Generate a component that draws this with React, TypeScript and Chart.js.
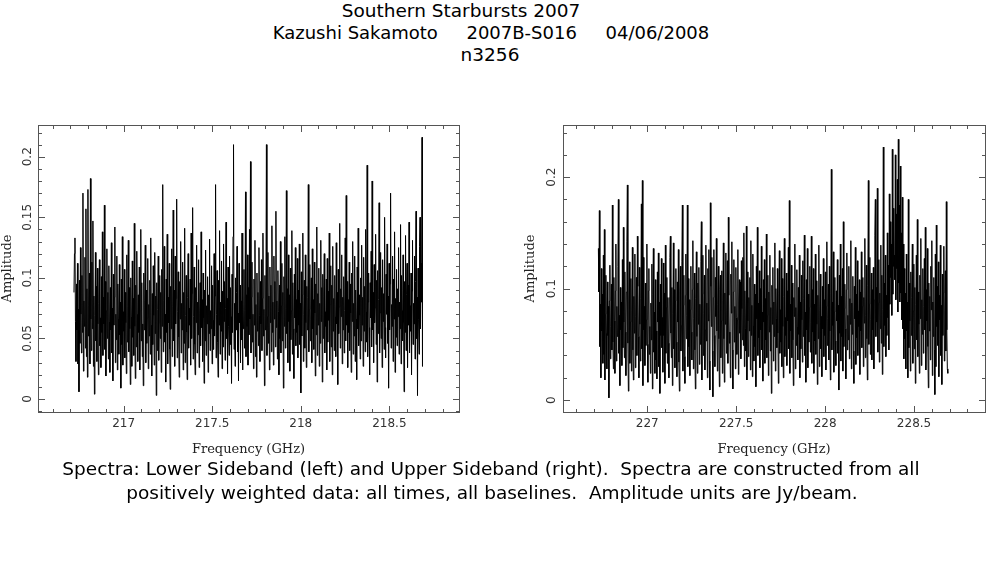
import React, { useEffect, useRef } from 'react';
import { Chart, registerables } from 'chart.js';

Chart.register(...registerables);

// ---- Data (amplitudes in mJy/beam, i.e. units of 0.001 Jy/beam) ----
const lsbFreqStartGHz = 216.72;
const lsbFreqEndGHz = 218.687;
const usbFreqStartGHz = 226.725;
const usbFreqEndGHz = 228.69;

const lsbAmplitudeMilli = [
  88, 120, 133, 64, 31, 95, 57, 112, 29, 74, 6, 98, 46, 125, 70, 38, 102, 55, 170, 23, 81, 60, 117, 42, 157,
  35, 91, 18, 173, 52, 77, 104, 29, 182, 66, 40, 113, 58, 147, 27, 85, 4, 69, 121, 48, 93, 31, 108, 62, 20,
  79, 115, 44, 67, 26, 101, 55, 138, 36, 84, 62, 160, 41, 97, 19, 73, 124, 50, 88, 33, 110, 64, 22, 92, 57,
  129, 38, 75, 15, 103, 61, 84, 142, 30, 70, 49, 118, 24, 95, 66, 37, 111, 53, 80, 9, 99, 45, 134, 28, 72,
  56, 107, 34, 88, 63, 21, 119, 47, 76, 131, 39, 92, 58, 12, 100, 68, 27, 114, 51, 83, 36, 145, 60, 17, 94,
  43, 122, 70, 31, 86, 55, 109, 24, 73, 140, 48, 96, 35, 62, 11, 104, 57, 81, 127, 30, 90, 46, 67, 116, 25,
  78, 52, 98, 37, 133, 61, 19, 87, 45, 110, 69, 28, 121, 54, 85, 3, 96, 40, 74, 118, 32, 63, 102, 50, 88,
  22, 107, 60, 177, 39, 81, 126, 47, 70, 14, 99, 55, 136, 29, 84, 63, 112, 41, 8, 93, 58, 124, 35, 76, 156,
  48, 90, 27, 118, 62, 83, 165, 34, 72, 105, 51, 18, 97, 66, 130, 38, 79, 57, 113, 24, 88, 46, 141, 30, 69,
  102, 55, 16, 84, 120, 42, 75, 61, 99, 28, 137, 50, 87, 158, 33, 68, 109, 45, 20, 92, 63, 127, 38, 80, 53,
  115, 26, 71, 96, 44, 138, 59, 82, 31, 104, 67, 13, 90, 48, 123, 36, 77, 62, 101, 22, 86, 54, 132, 40, 73,
  58, 110, 29, 94, 65, 41, 120, 52, 85, 177, 34, 70, 106, 47, 18, 98, 61, 139, 37, 80, 56, 114, 25, 89, 43,
  128, 64, 97, 32, 75, 146, 50, 83, 21, 109, 60, 36, 118, 45, 92, 68, 13, 103, 55, 134, 210, 41, 79, 27, 100,
  57, 88, 126, 39, 71, 15, 112, 63, 94, 30, 81, 49, 137, 24, 96, 58, 107, 42, 73, 171, 35, 86, 60, 119, 28,
  92, 53, 140, 66, 196, 38, 84, 113, 47, 70, 25, 99, 61, 131, 35, 78, 18, 104, 56, 88, 44, 125, 69, 31, 97,
  62, 115, 40, 83, 137, 52, 74, 11, 102, 57, 90, 210, 36, 68, 121, 46, 85, 24, 109, 63, 94, 39, 143, 55, 80,
  28, 118, 66, 97, 43, 155, 59, 81, 33, 106, 72, 20, 94, 50, 130, 38, 77, 112, 48, 88, 9, 101, 60, 134, 42,
  75, 172, 54, 91, 30, 119, 64, 86, 23, 108, 49, 73, 139, 37, 96, 58, 17, 103, 67, 125, 44, 82, 55, 116, 34,
  90, 61, 128, 45, 79, 5, 105, 52, 86, 137, 31, 70, 98, 42, 119, 63, 26, 93, 57, 84, 177, 39, 74, 111, 48,
  66, 100, 30, 124, 58, 82, 41, 113, 71, 19, 95, 53, 142, 36, 87, 61, 108, 27, 79, 46, 131, 64, 92, 14, 103,
  50, 85, 120, 38, 72, 60, 99, 24, 116, 47, 89, 65, 137, 31, 78, 110, 43, 94, 20, 126, 56, 83, 40, 102, 68,
  35, 129, 62, 88, 12, 107, 54, 76, 145, 42, 91, 68, 119, 29, 84, 57, 101, 38, 73, 133, 48, 168, 61, 97, 26,
  82, 55, 113, 40, 95, 71, 22, 104, 64, 130, 37, 79, 52, 118, 31, 90, 66, 16, 109, 58, 141, 44, 86, 69, 33,
  100, 48, 127, 61, 84, 27, 117, 56, 93, 39, 140, 72, 47, 193, 35, 80, 104, 59, 20, 96, 67, 122, 43, 180, 57,
  88, 30, 111, 63, 75, 136, 45, 98, 14, 106, 54, 82, 162, 38, 71, 121, 50, 92, 26, 115, 64, 87, 41, 150, 59,
  34, 103, 70, 128, 46, 85, 9, 112, 57, 95, 170, 42, 78, 60, 118, 31, 99, 66, 138, 22, 83, 51, 107, 44, 91,
  68, 125, 37, 80, 58, 144, 29, 102, 73, 48, 119, 63, 6, 97, 55, 135, 40, 86, 112, 26, 94, 61, 146, 38, 77,
  56, 104, 20, 89, 131, 45, 79, 62, 118, 33, 97, 155, 50, 84, 3, 108, 66, 37, 126, 150, 58, 112, 80, 216, 27,
];

const usbAmplitudeMilli = [
  136, 97, 170, 48, 86, 20, 118, 62, 95, 33, 130, 41, 153, 18, 77, 112, 60, 28, 106, 58, 84, 2, 89, 121, 37,
  66, 104, 45, 175, 52, 28, 110, 71, 24, 98, 140, 35, 84, 57, 120, 180, 42, 76, 13, 101, 63, 88, 31, 126, 47,
  155, 70, 38, 115, 61, 22, 97, 142, 193, 51, 8, 88, 124, 33, 70, 109, 26, 80, 137, 45, 18, 93, 60, 131, 29,
  75, 110, 40, 147, 102, 57, 20, 119, 68, 35, 91, 176, 46, 197, 13, 128, 63, 84, 31, 105, 49, 72, 140, 50, 16,
  98, 118, 41, 66, 24, 87, 54, 122, 10, 95, 136, 43, 79, 24, 108, 36, 62, 19, 115, 70, 132, 30, 88, 6, 104,
  58, 127, 47, 74, 25, 123, 58, 96, 15, 139, 42, 83, 110, 33, 92, 51, 20, 92, 128, 147, 60, 38, 101, 13, 78,
  141, 46, 99, 29, 89, 118, 52, 21, 106, 70, 135, 34, 8, 97, 120, 44, 67, 124, 175, 26, 85, 112, 39, 15, 94,
  131, 55, 76, 175, 30, 109, 48, 90, 22, 81, 120, 61, 36, 99, 143, 28, 73, 114, 45, 10, 91, 133, 57, 24, 105,
  68, 119, 32, 86, 50, 124, 160, 18, 95, 130, 40, 78, 112, 27, 63, 139, 53, 87, 20, 118, 71, 135, 35, 9, 177,
  102, 66, 128, 44, 3, 92, 135, 58, 30, 110, 75, 145, 62, 26, 86, 120, 55, 12, 99, 112, 38, 71, 116, 24, 89,
  141, 55, 16, 96, 68, 132, 42, 80, 125, 33, 164, 94, 51, 61, 20, 113, 78, 142, 45, 10, 97, 126, 52, 84, 28,
  119, 74, 41, 72, 135, 23, 88, 108, 60, 106, 37, 125, 82, 54, 128, 49, 150, 30, 98, 64, 44, 156, 18, 115, 71,
  39, 92, 62, 110, 27, 143, 58, 85, 21, 131, 67, 35, 104, 48, 95, 12, 120, 73, 155, 40, 87, 56, 116, 29, 100,
  63, 138, 45, 79, 17, 108, 70, 126, 33, 91, 54, 149, 38, 76, 112, 22, 97, 61, 130, 44, 83, 6, 103, 68, 119,
  35, 88, 57, 141, 26, 100, 73, 47, 118, 60, 15, 96, 134, 42, 81, 52, 127, 30, 109, 66, 20, 93, 145, 39, 74,
  58, 114, 31, 98, 71, 137, 46, 179, 24, 86, 62, 121, 38, 105, 54, 13, 92, 75, 140, 28, 83, 49, 117, 66, 36,
  101, 59, 130, 20, 88, 46, 112, 72, 34, 125, 57, 91, 148, 40, 79, 16, 108, 63, 136, 29, 95, 52, 83, 120, 43,
  70, 147, 33, 99, 61, 118, 24, 86, 53, 131, 41, 107, 68, 14, 94, 55, 139, 30, 80, 113, 46, 75, 21, 102, 64,
  127, 39, 90, 58, 115, 27, 84, 142, 49, 73, 104, 36, 120, 62, 18, 96, 207, 45, 88, 67, 133, 25, 79, 110, 53,
  31, 98, 71, 126, 42, 85, 9, 112, 60, 140, 35, 93, 57, 118, 26, 160, 48, 82, 104, 64, 19, 99, 132, 45, 76,
  54, 120, 37, 91, 68, 143, 28, 87, 59, 111, 44, 15, 102, 73, 137, 32, 95, 56, 125, 40, 80, 66, 108, 23, 97,
  62, 133, 47, 84, 110, 30, 92, 69, 145, 38, 76, 121, 55, 18, 103, 197, 50, 86, 128, 41, 72, 114, 36, 99, 63,
  119, 28, 90, 148, 180, 57, 101, 70, 190, 43, 87, 126, 34, 96, 64, 139, 51, 112, 23, 81, 227, 48, 105, 67, 130,
  39, 94, 58, 150, 74, 121, 45, 185, 86, 160, 110, 140, 76, 225, 95, 172, 120, 130, 108, 220, 90, 167, 118, 198, 79,
  234, 105, 175, 88, 210, 96, 150, 72, 182, 64, 140, 37, 118, 55, 96, 28, 131, 62, 88, 20, 180, 47, 105, 71, 26,
  115, 58, 92, 140, 33, 80, 122, 46, 101, 15, 86, 130, 54, 162, 39, 97, 68, 24, 112, 73, 145, 31, 90, 59, 118,
  42, 84, 127, 63, 155, 27, 99, 71, 136, 48, 11, 105, 62, 93, 36, 120, 81, 143, 22, 88, 57, 110, 45, 5, 131,
  30, 157, 66, 102, 49, 124, 21, 94, 72, 139, 40, 85, 14, 113, 58, 96, 138, 35, 80, 116, 44, 178, 63, 28, 24,
];

// Axis windows (GHz and mJy/beam)
const lsbXRange = [216.517, 218.893];
const usbXRange = [226.526, 228.899];
const lsbYRange = [-10.7, 226.2];
const usbYRange = [-10.7, 246.8];

const titleLines = ['Southern Starbursts 2007', 'Kazushi Sakamoto     2007B-S016     04/06/2008', 'n3256'];
const captionLines = [
  'Spectra: Lower Sideband (left) and Upper Sideband (right).  Spectra are constructed from all',
  'positively weighted data: all times, all baselines.  Amplitude units are Jy/beam.',
];

const isMultiple = (v: number, step: number) => Math.abs(v / step - Math.round(v / step)) < 1e-6;

const frameTicksPlugin = {
  id: 'frameTicks',
  afterDraw(chart: any, _args: any, opts: any) {
    const { ctx, chartArea: a } = chart;
    const xs = chart.scales.x;
    const ys = chart.scales.y;
    ctx.save();
    ctx.strokeStyle = '#555';
    ctx.lineWidth = 1;
    ctx.strokeRect(a.left + 0.5, a.top + 0.5, a.right - a.left, a.bottom - a.top);
    ctx.beginPath();
    for (const t of xs.ticks) {
      const p = Math.round(xs.getPixelForValue(t.value)) + 0.5;
      if (p <= a.left + 1 || p >= a.right) continue;
      const len = isMultiple(t.value, opts.xMajor) ? 6 : 3;
      ctx.moveTo(p, a.bottom);
      ctx.lineTo(p, a.bottom - len);
      ctx.moveTo(p, a.top + 1);
      ctx.lineTo(p, a.top + 1 + len);
    }
    for (const t of ys.ticks) {
      const p = Math.round(ys.getPixelForValue(t.value)) + 0.5;
      if (p <= a.top + 1 || p >= a.bottom) continue;
      const len = isMultiple(t.value, opts.yMajor) ? 6 : 3;
      ctx.moveTo(a.left + 1, p);
      ctx.lineTo(a.left + 1 + len, p);
      ctx.moveTo(a.right, p);
      ctx.lineTo(a.right - len, p);
    }
    ctx.stroke();
    ctx.fillStyle = '#333';
    ctx.font = '12px "DejaVu Sans"';
    ctx.textAlign = 'center';
    ctx.textBaseline = 'alphabetic';
    for (const t of ys.ticks) {
      if (!isMultiple(t.value, opts.yMajor)) continue;
      const p = ys.getPixelForValue(t.value);
      ctx.save();
      ctx.translate(a.left - opts.yLabelGap, p);
      ctx.rotate(-Math.PI / 2);
      ctx.fillText(String(Math.round(t.value) / 1000), 0, 0);
      ctx.restore();
    }
    ctx.restore();
  },
};

type PanelProps = {
  left: number;
  width: number;
  freqStart: number;
  freqEnd: number;
  amps: number[];
  xRange: number[];
  yRange: number[];
  yMinor: number;
  yMajor: number;
  yAxisWidth: number;
  padRight: number;
  yTitlePad: number;
  yLabelGap: number;
};

function SpectrumPanel(p: PanelProps) {
  const ref = useRef<HTMLCanvasElement | null>(null);
  useEffect(() => {
    if (!ref.current) return;
    const n = p.amps.length;
    const df = (p.freqEnd - p.freqStart) / (n - 1);
    const points = p.amps.map((v, i) => ({ x: p.freqStart + i * df, y: v }));
    const chart = new Chart(ref.current, {
      type: 'line',
      data: {
        datasets: [
          {
            data: points,
            borderColor: '#000',
            borderWidth: 1,
            pointRadius: 0,
            tension: 0,
            fill: false,
          },
        ],
      },
      options: {
        animation: false,
        responsive: false,
        devicePixelRatio: 1,
        events: [],
        layout: { padding: { left: 0, right: p.padRight, top: 10, bottom: 0 } },
        plugins: {
          legend: { display: false },
          tooltip: { enabled: false },
          title: { display: false },
          frameTicks: { xMajor: 0.5, yMajor: p.yMajor, yLabelGap: p.yLabelGap },
        } as any,
        scales: {
          x: {
            type: 'linear',
            min: p.xRange[0],
            max: p.xRange[1],
            afterFit: (s: any) => {
              s.height = 53;
            },
            grid: { display: false, drawTicks: false },
            border: { display: false },
            ticks: {
              stepSize: 0.1,
              autoSkip: false,
              includeBounds: false,
              maxRotation: 0,
              minRotation: 0,
              padding: 5,
              color: '#333',
              font: { family: 'DejaVu Sans', size: 12 },
              callback: (v: any) => (isMultiple(Number(v), 0.5) ? String(Math.round(Number(v) * 10) / 10) : ''),
            },
            title: {
              display: true,
              text: 'Frequency (GHz)',
              color: '#222',
              font: { family: 'DejaVu Serif', size: 13 },
              padding: { top: 0, bottom: 8 },
            },
          },
          y: {
            type: 'linear',
            min: p.yRange[0],
            max: p.yRange[1],
            afterFit: (s: any) => {
              s.width = p.yAxisWidth;
            },
            grid: { display: false, drawTicks: false },
            border: { display: false },
            ticks: { display: false, stepSize: p.yMinor, includeBounds: false },
            title: {
              display: true,
              text: 'Amplitude',
              color: '#222',
              font: { family: 'DejaVu Serif', size: 13 },
              padding: { top: p.yTitlePad, bottom: 0 },
            },
          },
        },
      } as any,
      plugins: [frameTicksPlugin],
    });
    return () => chart.destroy();
  }, []);
  return (
    <div style={{ position: 'absolute', left: p.left, top: 115, width: p.width, height: 350 }}>
      <canvas ref={ref} width={p.width} height={350} style={{ width: p.width, height: 350, display: 'block' }} />
    </div>
  );
}

const textStyle: React.CSSProperties = {
  position: 'absolute',
  fontFamily: '"DejaVu Sans", sans-serif',
  fontSize: 18.5,
  color: '#000',
  whiteSpace: 'pre',
  textAlign: 'center',
  width: 1000,
  lineHeight: '22px',
};

export default function App() {
  return (
    <div style={{ position: 'absolute', left: 0, top: 0, width: 987, height: 567, background: '#fff', overflow: 'hidden' }}>
      <div style={{ ...textStyle, left: 461 - 500, top: 0 }}>{titleLines[0]}</div>
      <div style={{ ...textStyle, left: 491 - 500, top: 22, fontSize: 18 }}>{titleLines[1]}</div>
      <div style={{ ...textStyle, left: 490 - 500, top: 44 }}>{titleLines[2]}</div>
      <SpectrumPanel
        left={0}
        width={480}
        freqStart={lsbFreqStartGHz}
        freqEnd={lsbFreqEndGHz}
        amps={lsbAmplitudeMilli}
        xRange={lsbXRange}
        yRange={lsbYRange}
        yMinor={10}
        yMajor={50}
        yAxisWidth={38}
        padRight={21}
        yTitlePad={0}
        yLabelGap={7}
      />
      <SpectrumPanel
        left={520}
        width={467}
        freqStart={usbFreqStartGHz}
        freqEnd={usbFreqEndGHz}
        amps={usbAmplitudeMilli}
        xRange={usbXRange}
        yRange={usbYRange}
        yMinor={20}
        yMajor={100}
        yAxisWidth={43}
        padRight={2}
        yTitlePad={3}
        yLabelGap={8}
      />
      <div style={{ ...textStyle, left: 491 - 500, top: 457, lineHeight: '24px' }}>{captionLines[0]}</div>
      <div style={{ ...textStyle, left: 492 - 500, top: 481, lineHeight: '24px' }}>{captionLines[1]}</div>
    </div>
  );
}
